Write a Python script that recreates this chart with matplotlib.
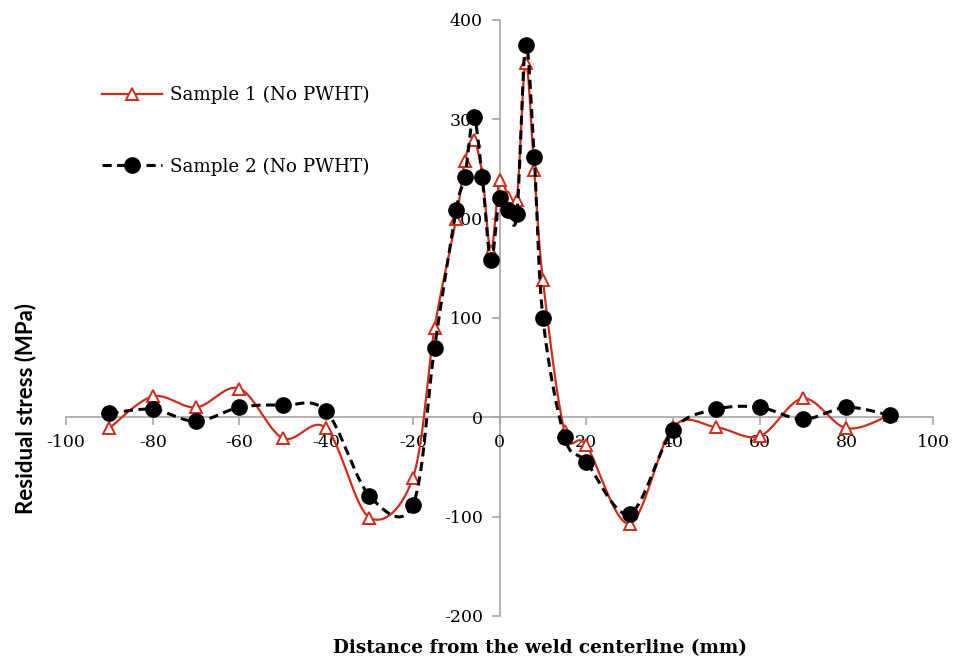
import numpy as np
import matplotlib
matplotlib.use("Agg")
import matplotlib.pyplot as plt

plt.rcParams['axes.unicode_minus'] = False

# Measurement positions (mm from weld centerline)
distance = [-90, -80, -70, -60, -50, -40, -30, -20, -15, -10, -8, -6, -4, -2,
            0, 2, 4, 6, 8, 10, 15, 20, 30, 40, 50, 60, 70, 80, 90]

# Residual stress (MPa)
sample1 = [-11, 21, 10, 29, -21, -11, -101, -61, 90, 200, 258, 279, 245, 167,
           239, 222, 219, 357, 249, 138, -14, -28, -107, -10, -10, -19, 19, -11, 2]
sample2 = [4, 8, -4, 10, 12, 6, -79, -88, 70, 209, 242, 302, 242, 158,
           221, 209, 205, 375, 262, 100, -20, -45, -97, -13, 8, 10, -2, 10, 2]

x_ticks = list(range(-100, 101, 20))
y_ticks = list(range(-200, 401, 100))


def smooth(xs, ys, n=30):
    """Spreadsheet-style smoothed line: cubic Bezier through the points."""
    p = np.column_stack([xs, ys]).astype(float)
    pts = [p[0]]
    t = np.linspace(0, 1, n)[1:, None]
    for i in range(len(p) - 1):
        p0 = p[i - 1] if i > 0 else p[i]
        p1, p2 = p[i], p[i + 1]
        p3 = p[i + 2] if i + 2 < len(p) else p[i + 1]
        b1 = p1 + (p2 - p0) / 6
        b2 = p2 - (p3 - p1) / 6
        seg = ((1 - t) ** 3 * p1 + 3 * (1 - t) ** 2 * t * b1
               + 3 * (1 - t) * t ** 2 * b2 + t ** 3 * p2)
        pts.extend(seg)
    pts = np.array(pts)
    return pts[:, 0], pts[:, 1]


fig = plt.figure(figsize=(9.55, 6.65), dpi=100)
ax = fig.add_axes([0.0691, 0.0737, 0.908, 0.8963])

red = '#d42a1a'
dash = (0, (3, 1.8))
sx, sy = smooth(distance, sample1)
ax.plot(sx, sy, color=red, lw=1.6, zorder=2)
ax.plot(distance, sample1, ls='none', marker='^', ms=8, mfc='white',
        mec=red, mew=1.4, zorder=3)

bx, by = smooth(distance, sample2)
ax.plot(bx, by, color='black', lw=2.2, ls=dash, zorder=4)
ax.plot(distance, sample2, ls='none', marker='o', ms=11, color='black',
        zorder=5)

# legend entries (line + marker together)
h1, = ax.plot([], [], color=red, lw=1.6, marker='^', ms=8, mfc='white',
              mec=red, mew=1.4)
h2, = ax.plot([], [], color='black', lw=2.2, ls=dash, marker='o', ms=11)
ax.legend([h1, h2], ['Sample 1 (No PWHT)', 'Sample 2 (No PWHT)'],
          loc='upper left', bbox_to_anchor=(0.022, 0.917), frameon=False,
          handlelength=3.3, handletextpad=0.45, labelspacing=2.9,
          prop={'family': 'DejaVu Serif', 'size': 13.2})

ax.set_xlim(-100, 100)
ax.set_ylim(-200, 400)
ax.set_xticks(x_ticks)
ax.set_yticks(y_ticks)

# axes cross at the origin
ax.spines['left'].set_position(('data', 0))
ax.spines['bottom'].set_position(('data', 0))
ax.spines['right'].set_visible(False)
ax.spines['top'].set_visible(False)
for s in ('left', 'bottom'):
    ax.spines[s].set_color('#a6a6a6')
    ax.spines[s].set_linewidth(1.2)
    ax.spines[s].set_zorder(1)
ax.tick_params(direction='out', length=6, width=1.2, color='#a6a6a6',
               labelsize=12.5, pad=6)
for lab in ax.get_xticklabels() + ax.get_yticklabels():
    lab.set_family('DejaVu Serif')

fig.text(0.027, 1 - 408 / 665, 'Residual stress (MPa)', rotation=90,
         ha='center', va='center', fontsize=16, fontweight='bold',
         family='Lato')
fig.text(0.565, 1 - 648 / 665, 'Distance from the weld centerline (mm)',
         ha='center', va='center', fontsize=13.2, fontweight='bold',
         family='DejaVu Serif')

fig.savefig('out.png', dpi=100)
